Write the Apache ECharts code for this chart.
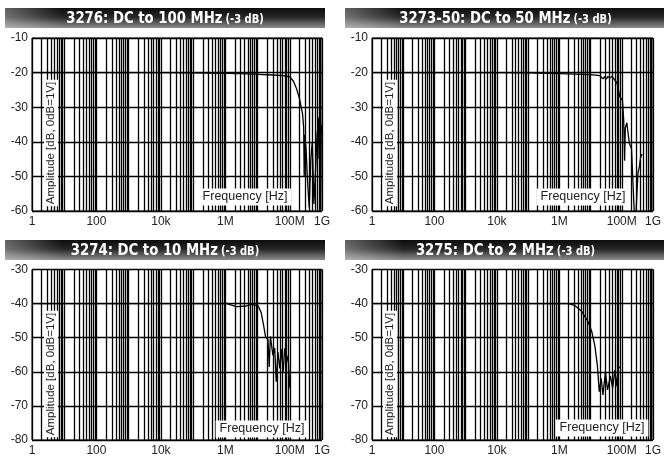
<!DOCTYPE html>
<html>
<head>
<meta charset="utf-8">
<script src="https://cdn.jsdelivr.net/npm/echarts@6/dist/echarts.min.js"></script>
<style>
html, body { margin: 0; padding: 0; background: #fff; }
#chart { width: 664px; height: 457px; }
</style>
</head>
<body>
<div id="chart"></div>
<script>
// panel titles
var titles = ['3276: DC to 100 MHz', '3273-50: DC to 50 MHz', '3274: DC to 10 MHz', '3275: DC to 2 MHz'];
var titleNote = '(-3 dB)';

// x tick labels by decade exponent (others empty)
var xTickLabels = { 0: '1', 2: '100', 4: '10k', 6: '1M', 8: '100M', 9: '1G' };

// y ranges [min, max] per panel
var yRanges = [[-60, -10], [-60, -10], [-80, -30], [-80, -30]];

// 3276
var freq3276 = [1, 10, 100, 1e3, 1e4, 1e5, 1e6, 3e6, 1e7, 3e7, 6e7, 1e8, 1.3e8, 1.6e8, 2e8, 2.5e8, 2.7e8, 2.8e8, 2.9e8, 3.2e8, 3.5e8, 4e8, 4.5e8, 5e8, 5.6e8, 6.3e8, 7.1e8, 7.5e8, 7.9e8, 8.5e8, 8.9e8, 9.3e8, 1e9];
var amp3276 = [-20, -20, -20, -20, -20, -20.1, -20.2, -20.3, -20.5, -20.7, -20.9, -21.2, -22.5, -24.5, -27.5, -32, -36, -50, -38, -42, -50, -59, -45, -40, -58, -48, -37, -45, -33, -41, -58, -38, -35];

// 3273-50
var freq3273 = [1, 10, 100, 1e3, 1e4, 1e5, 1e6, 1e7, 2e7, 2.5e7, 2.8e7, 3.2e7, 3.6e7, 4.2e7, 4.8e7, 5.5e7, 7e7, 8.7e7, 1.05e8, 1.15e8, 1.23e8, 1.3e8, 1.45e8, 1.75e8, 2.05e8, 2.5e8, 2.8e8, 3.3e8, 3.7e8, 4e8, 4.5e8];
var amp3273 = [-20, -20, -20, -20, -20, -20.1, -20.3, -20.6, -20.9, -21.8, -21.2, -21.9, -21.1, -21.6, -21, -21.2, -23, -27, -28, -33.5, -45.5, -36, -34.5, -40.5, -42, -60, -62, -49, -47, -44.5, -43.5];

// 3274
var freq3274 = [1, 10, 100, 1e3, 1e4, 1e5, 1.1e6, 2.2e6, 4.5e6, 6.5e6, 1.05e7, 1.3e7, 1.55e7, 1.78e7, 2.1e7, 2.3e7, 2.5e7, 3e7, 3.4e7, 3.8e7, 4.3e7, 4.9e7, 5.5e7, 6.2e7, 7e7, 7.9e7, 8.9e7, 1e8];
var amp3274 = [-40, -40, -40, -40, -40, -40, -40, -40.9, -40.7, -40.2, -40.7, -42.7, -46.5, -49.9, -50.5, -58.6, -49.6, -55.2, -53, -62.9, -54.2, -59, -53.3, -60, -53.1, -57.2, -55.3, -64.8];

// 3275
var freq3275 = [1, 10, 100, 1e3, 1e4, 1e5, 1e6, 2e6, 3.2e6, 5.1e6, 8.1e6, 1.08e7, 1.37e7, 1.65e7, 1.9e7, 2.2e7, 2.5e7, 3e7, 3.5e7, 4.3e7, 5.1e7, 6e7, 6.8e7, 7.7e7, 8.7e7];
var amp3275 = [-40, -40, -40, -40, -40, -40, -40, -40, -40.6, -42.2, -45.1, -48, -52.3, -58.1, -65.8, -62, -66.8, -60, -65.3, -61.3, -64.7, -59.5, -64.2, -59, -58.6];

var freqs = [freq3276, freq3273, freq3274, freq3275];
var amps = [amp3276, amp3273, amp3274, amp3275];

var chart = echarts.init(document.getElementById('chart'));

var labelFont = 'Liberation Sans, Arial, sans-serif';
// plot boxes: [left, top, width, height]
var boxes = [[32, 38, 290, 173], [372, 38, 292, 173], [32, 269.5, 290, 173], [372, 269.5, 292, 173]];
// title bars: [x, y, w, h]
var bars = [[5, 8, 320, 20], [345, 8, 325, 20], [5, 240, 320, 20], [345, 240, 325, 20]];
var ampPos = [[51, 143], [390, 143], [51, 374], [390, 374]];
var freqPos = [[245, 197], [583, 197], [262, 429], [602, 428]];

// minor log grid lines 2..9 in every decade
var minorLines = [];
for (var k = 0; k < 9; k++) {
    for (var m = 2; m <= 9; m++) {
        minorLines.push({ xAxis: m * Math.pow(10, k) });
    }
}

function zip(xs, ys) {
    var res = [];
    for (var i = 0; i < xs.length; i++) res.push([xs[i], ys[i]]);
    return res;
}

var grids = [], xAxes = [], yAxes = [], series = [], graphics = [];
for (var i = 0; i < 4; i++) {
    grids.push({
        left: boxes[i][0], top: boxes[i][1], width: boxes[i][2], height: boxes[i][3],
        show: true, borderColor: '#000', borderWidth: 1, backgroundColor: '#fff'
    });
    xAxes.push({
        gridIndex: i, type: 'log', logBase: 10, min: 1, max: 1e9, splitNumber: 9,
        axisLine: { show: false }, axisTick: { show: false },
        axisLabel: {
            color: '#222', fontSize: 12, fontFamily: labelFont, margin: 5, hideOverlap: false,
            formatter: function (v) {
                var e = Math.round(Math.log(v) / Math.LN10);
                return xTickLabels[e] || '';
            }
        },
        splitLine: { show: true, lineStyle: { color: '#000', width: 1.3 } }
    });
    yAxes.push({
        gridIndex: i, type: 'value', min: yRanges[i][0], max: yRanges[i][1], interval: 10,
        axisLine: { show: false }, axisTick: { show: false },
        axisLabel: { color: '#222', fontSize: 12, fontFamily: labelFont, margin: 4 },
        splitLine: { show: true, lineStyle: { color: '#000', width: 1.3 } }
    });
    series.push({
        type: 'line', xAxisIndex: i, yAxisIndex: i,
        data: zip(freqs[i], amps[i]),
        symbol: 'none', showSymbol: false,
        lineStyle: { color: '#000', width: 1.3 },
        emphasis: { disabled: true },
        z: 3,
        markLine: {
            silent: true, symbol: ['none', 'none'], animation: false,
            label: { show: false },
            lineStyle: { color: '#000', width: 1.3, type: 'solid' },
            emphasis: { disabled: true },
            data: minorLines
        }
    });

    // title bar
    var b = bars[i];
    graphics.push({
        type: 'rect', z: 5,
        shape: { x: b[0], y: b[1], width: b[2], height: b[3] },
        style: {
            fill: new echarts.graphic.LinearGradient(0, 0, 0, 1, [
                { offset: 0, color: '#0c0c0c' },
                { offset: 0.45, color: '#262626' },
                { offset: 1, color: '#8c8c8c' }
            ])
        }
    });
    graphics.push({
        type: 'rect', z: 6,
        shape: { x: b[0], y: b[1], width: b[2], height: b[3] },
        style: {
            fill: new echarts.graphic.LinearGradient(0, 0, 1, 0, [
                { offset: 0, color: 'rgba(255,255,255,0.35)' },
                { offset: 0.18, color: 'rgba(255,255,255,0)' },
                { offset: 1, color: 'rgba(255,255,255,0)' }
            ])
        }
    });
    graphics.push({
        type: 'text', z: 7,
        x: b[0] + b[2] / 2 - (i % 2 ? 2 : 0), y: b[1] + b[3] / 2 + 0.5,
        scaleX: 0.92,
        style: {
            text: '{a|' + titles[i] + '} {b|' + titleNote + '}',
            align: 'center', verticalAlign: 'middle',
            rich: {
                a: { fill: '#fff', fontSize: 16, fontWeight: 'bold', fontFamily: 'DejaVu Sans Condensed' },
                b: { fill: '#fff', fontSize: 12, fontWeight: 'bold', fontFamily: 'DejaVu Sans Condensed', padding: [2, 0, 0, 0] }
            }
        }
    });

    // boxed axis names inside the plot
    graphics.push({
        type: 'text', z: 10,
        x: ampPos[i][0], y: ampPos[i][1], rotation: Math.PI / 2,
        style: {
            text: 'Amplitude [dB, 0dB=1V]', fill: '#222',
            font: '11.5px ' + labelFont,
            align: 'center', verticalAlign: 'middle',
            backgroundColor: '#fff', padding: [1, 2]
        }
    });
    graphics.push({
        type: 'text', z: 10,
        x: freqPos[i][0], y: freqPos[i][1],
        style: {
            text: 'Frequency [Hz]', fill: '#222',
            font: '12.5px ' + labelFont,
            align: 'center', verticalAlign: 'middle',
            backgroundColor: '#fff', padding: [2, 4]
        }
    });
}

var option = {
    animation: false,
    backgroundColor: '#fff',
    grid: grids,
    xAxis: xAxes,
    yAxis: yAxes,
    series: series,
    graphic: graphics
};
chart.setOption(option);
</script>
</body>
</html>
